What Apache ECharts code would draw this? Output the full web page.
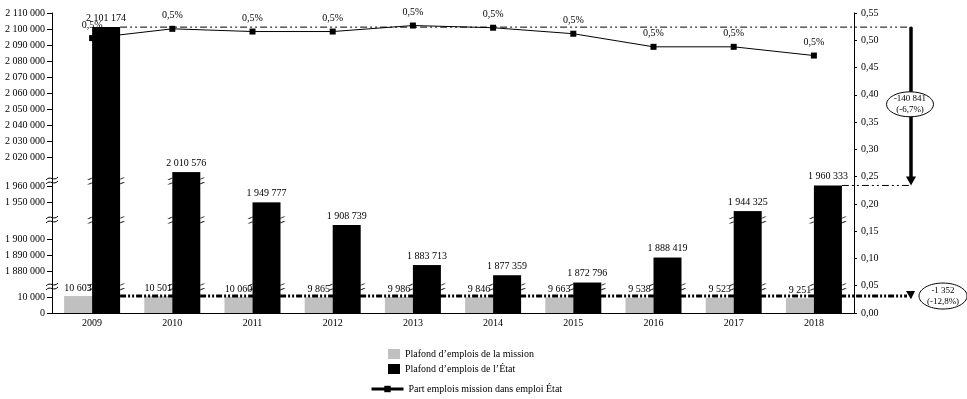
<!DOCTYPE html>
<html><head><meta charset="utf-8">
<script src="https://cdn.jsdelivr.net/npm/echarts@6/dist/echarts.min.js"></script>
<style>html,body{margin:0;padding:0;background:#fff}#c{width:967px;height:399px}</style>
</head><body><div id="c"></div>
<script>
// ---- data ----
const years = ['2009','2010','2011','2012','2013','2014','2015','2016','2017','2018'];
const missionCeiling = [10603,10501,10060,9865,9986,9846,9663,9538,9523,9251];
const stateCeiling = [2101174,2010576,1949777,1908739,1883713,1877359,1872796,1888419,1944325,1960333];
const missionShare = [0.504,0.521,0.516,0.516,0.527,0.523,0.512,0.488,0.488,0.472];
const ticksLow = [0,10000];
const ticksMid = [1880000,1890000,1900000];
const ticksHigh = [1950000,1960000];
const ticksTop = [2020000,2030000,2040000,2050000,2060000,2070000,2080000,2090000,2100000,2110000];
const nameMission = 'Plafond d’emplois de la mission';
const nameState = 'Plafond d’emplois de l’État';
const nameShare = 'Part emplois mission dans emploi État';

// ---- layout ----
const FONT = 'Liberation Serif';
const LEFT = 52, RIGHT = 113, BAR = 28, END_X = 912, ARROW_X = 911;
const segs = [
  {min:0,       max:16250,   top:287, height:26,  ticks:ticksLow},
  {min:1870000, max:1911875, top:220, height:67,  ticks:ticksMid},
  {min:1938750, max:1963125, top:181, height:39,  ticks:ticksHigh},
  {min:2005000, max:2110000, top:13,  height:168, ticks:ticksTop}
];
const fmt = v => String(v).replace(/\B(?=(\d{3})+(?!\d))/g, ' ');
const pct = (a, b) => ((b - a) / a * 100).toFixed(1).replace('.', ',') + '%';
const txt = {fontFamily: FONT, fontSize: 10, color: '#000'};

const grid = segs.map(s => ({left: LEFT, right: RIGHT, top: s.top, height: s.height, outerBoundsMode: 'none'}));
grid.push({left: LEFT, right: RIGHT, top: 13, height: 300, outerBoundsMode: 'none'});

const xAxis = grid.map((g, i) => ({
  gridIndex: i, type: 'category', data: years, show: i === 0,
  axisLine: {lineStyle: {color: '#000', width: 1}},
  axisTick: {show: false},
  axisLabel: Object.assign({margin: 5}, txt)
}));

const yAxis = segs.map((s, i) => ({
  gridIndex: i, type: 'value', min: s.min, max: s.max, position: 'left',
  axisLine: {show: true, lineStyle: {color: '#000', width: 1}},
  axisTick: {show: true, length: 5, customValues: s.ticks, lineStyle: {color: '#000'}},
  axisLabel: Object.assign({customValues: s.ticks, formatter: v => fmt(v), margin: 7}, txt),
  splitLine: {show: false}
}));
yAxis.push({
  gridIndex: 4, type: 'value', min: 0, max: 0.55, interval: 0.05, position: 'right',
  axisLine: {show: true, lineStyle: {color: '#000', width: 1}},
  axisTick: {show: true, length: 3, lineStyle: {color: '#000'}},
  axisLabel: Object.assign({formatter: v => v.toFixed(2).replace('.', ','), margin: 7}, txt),
  splitLine: {show: false}
});

const series = [];
const breakPath = 'path://M0,3 C6,0 10,1 19,2 C28,3 32,4 38,1 M0,7 C6,4 10,5 19,6 C28,7 32,8 38,5';
segs.forEach((s, i) => {
  const inSeg = v => v >= s.min && v <= s.max;
  series.push({
    type: 'bar', name: nameMission, xAxisIndex: i, yAxisIndex: i, barWidth: BAR, barGap: '0%', clip: true, z: 3,
    itemStyle: {color: '#c0c0c0'},
    label: Object.assign({position: 'top', distance: 3, formatter: p => fmt(p.value)}, txt),
    data: missionCeiling.map(v => ({value: v, label: {show: inSeg(v)}}))
  });
  series.push({
    type: 'bar', name: nameState, xAxisIndex: i, yAxisIndex: i, barWidth: BAR, barGap: '0%', clip: true, z: 3,
    itemStyle: {color: '#000'},
    label: Object.assign({position: 'top', distance: 4, formatter: p => fmt(p.value)}, txt),
    data: stateCeiling.map(v => ({value: v, label: {show: inSeg(v)}}))
  });
  if (i < 3) {
    series.push({
      type: 'scatter', xAxisIndex: i, yAxisIndex: i, clip: false, z: 4, silent: true,
      symbol: breakPath, symbolSize: [36, 7], symbolKeepAspect: false, symbolOffset: [BAR / 2, 0],
      itemStyle: {color: 'none', borderColor: '#000', borderWidth: 1},
      data: stateCeiling.map((v, k) => v > s.max ? [years[k], s.max] : null).filter(Boolean)
    });
  }
});
series.push({
  type: 'line', name: nameShare, xAxisIndex: 4, yAxisIndex: 4, z: 1,
  data: missionShare, symbol: 'rect', symbolSize: 6,
  lineStyle: {color: '#000', width: 1}, itemStyle: {color: '#000'},
  label: Object.assign({show: true, position: 'top', formatter: p => p.value.toFixed(1).replace('.', ',') + '%'}, txt)
});

const option = {
  animation: false,
  textStyle: {fontFamily: FONT},
  grid, xAxis, yAxis, series,
  legend: [
    {data: [nameMission, nameState], orient: 'vertical', left: 383, top: 344, itemWidth: 12, itemHeight: 10,
     itemGap: 5, icon: 'rect', selectedMode: false, textStyle: txt},
    {data: [nameShare], left: 365, top: 379, itemWidth: 32, itemHeight: 8, selectedMode: false,
     textStyle: txt, lineStyle: {width: 3}}
  ]
};

const chart = echarts.init(document.getElementById('c'), null, {renderer: 'canvas'});
chart.setOption(option);

// ---- annotations from the scales ----
const px = (gi, cat, val) => chart.convertToPixel({gridIndex: gi}, [cat, val]);
const p0 = px(3, years[0], stateCeiling[0]);
const p9 = px(2, years[9], stateCeiling[9]);
const q0 = px(0, years[0], missionCeiling[0]);
const q9 = px(0, years[9], missionCeiling[9]);
const dashThin = [7, 3, 2, 3, 2, 3];
const g = [];
g.push({type: 'line', shape: {x1: p0[0] + BAR, y1: p0[1], x2: END_X, y2: p0[1]}, style: {stroke: '#000', lineWidth: 1, lineDash: dashThin}});
g.push({type: 'line', shape: {x1: p9[0] + BAR, y1: p9[1], x2: END_X, y2: p9[1]}, style: {stroke: '#000', lineWidth: 1, lineDash: dashThin}});
g.push({type: 'line', shape: {x1: ARROW_X, y1: p0[1], x2: ARROW_X, y2: p9[1] - 7}, style: {stroke: '#000', lineWidth: 3.5}});
g.push({type: 'polygon', shape: {points: [[ARROW_X - 5, p9[1] - 9], [ARROW_X + 5, p9[1] - 9], [ARROW_X, p9[1]]]}, style: {fill: '#000'}});
const cyU = (p0[1] + p9[1]) / 2 - 2;
g.push({type: 'ellipse', shape: {cx: ARROW_X - 1, cy: cyU, rx: 23.5, ry: 12.5}, style: {fill: '#fff', stroke: '#000', lineWidth: 1}});
g.push({type: 'text', x: ARROW_X - 1, y: cyU, style: {text: fmt(stateCeiling[9] - stateCeiling[0]) + '\n(' + pct(stateCeiling[0], stateCeiling[9]) + ')',
  align: 'center', verticalAlign: 'middle', font: '9px "Liberation Serif"', fill: '#000', lineHeight: 11}});
g.push({type: 'line', shape: {x1: q0[0] + BAR, y1: q0[1], x2: ARROW_X - 4, y2: q0[1]}, style: {stroke: '#000', lineWidth: 3, lineDash: [6, 2, 2, 2, 2, 2]}});
g.push({type: 'polygon', shape: {points: [[ARROW_X - 5, q0[1] - 5], [ARROW_X + 4, q0[1] - 5], [ARROW_X, q9[1] + 1]]}, style: {fill: '#000'}});
g.push({type: 'ellipse', shape: {cx: 943, cy: q0[1], rx: 24, ry: 13}, style: {fill: '#fff', stroke: '#000', lineWidth: 1}});
g.push({type: 'text', x: 943, y: q0[1], style: {text: fmt(missionCeiling[9] - missionCeiling[0]) + '\n(' + pct(missionCeiling[0], missionCeiling[9]) + ')',
  align: 'center', verticalAlign: 'middle', font: '9px "Liberation Serif"', fill: '#000', lineHeight: 11}});
// axis break marks on the left axis
segs.slice(0, 3).forEach(s => {
  const y = s.top;
  [-2, 2].forEach(d => g.push({type: 'bezierCurve',
    shape: {x1: LEFT - 6, y1: y + d + 1, cpx1: LEFT - 2, cpy1: y + d - 4, cpx2: LEFT + 2, cpy2: y + d + 3, x2: LEFT + 6, y2: y + d - 2},
    style: {stroke: '#000', lineWidth: 1, fill: null}}));
});
chart.setOption({graphic: {elements: g.map(e => Object.assign({silent: true, z: 100}, e))}});
</script></body></html>
